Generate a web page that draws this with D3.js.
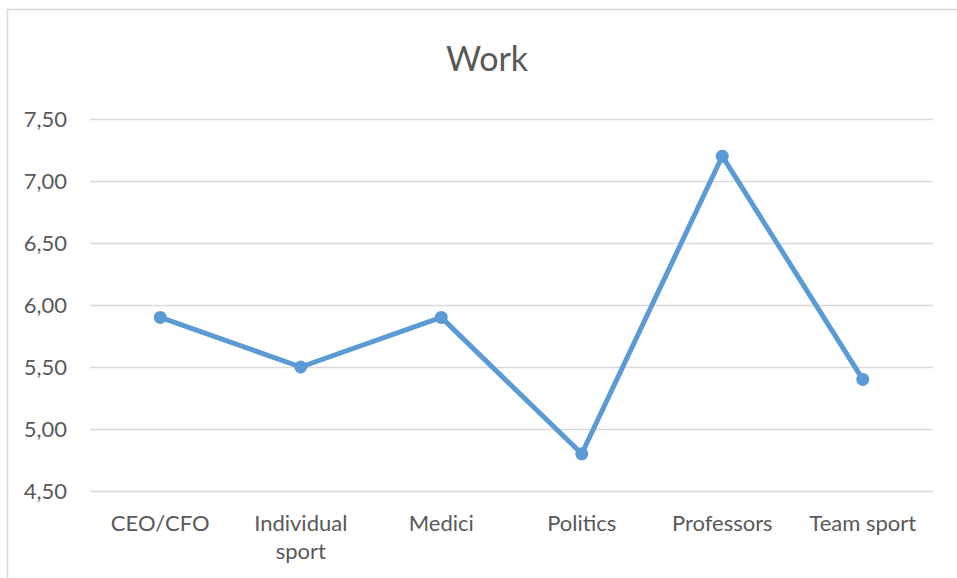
<!DOCTYPE html>
<html>
<head>
<meta charset="utf-8">
<script src="https://cdn.jsdelivr.net/npm/d3@7"></script>
<style>
  html, body { margin: 0; padding: 0; background: #fff; }
  svg { display: block; }
  text { font-family: Lato, "Open Sans", sans-serif; fill: #595959; }
</style>
</head>
<body>
<svg id="chart" width="957" height="578"></svg>
<script>
// Average "Work" score per profession group
const categories = ["CEO/CFO", "Individual sport", "Medici", "Politics", "Professors", "Team sport"];
const values = [5.9, 5.5, 5.9, 4.8, 7.2, 5.4];
const yTicks = [4.5, 5.0, 5.5, 6.0, 6.5, 7.0, 7.5];
const title = "Work";

const svg = d3.select("#chart");
const W = 957, H = 578;
const margin = { left: 90, right: 24, top: 119, bottom: 87 };

// chart frame
svg.append("rect")
  .attr("x", 7.5).attr("y", 9.5)
  .attr("width", W + 20).attr("height", H + 20)
  .attr("fill", "none").attr("stroke", "#d9d9d9").attr("stroke-width", 1.5);

const x = d3.scaleBand()
  .domain(categories)
  .range([margin.left, W - margin.right]);

const y = d3.scaleLinear()
  .domain([4.5, 7.5])
  .range([H - margin.bottom, margin.top]);

const fmt = v => d3.format(".2f")(v).replace(".", ",");

// gridlines + y labels
const yAxis = d3.axisLeft(y)
  .tickValues(yTicks)
  .tickSize(-(W - margin.right - margin.left))
  .tickPadding(23)
  .tickFormat(fmt);

const gy = svg.append("g")
  .attr("transform", `translate(${margin.left},0)`)
  .call(yAxis);
gy.select(".domain").remove();
gy.selectAll(".tick line").attr("stroke", "#d9d9d9").attr("stroke-width", 1.3);
gy.selectAll(".tick text")
  .attr("font-size", 22)
  .style("font-family", "Lato, 'Open Sans', sans-serif")
  .attr("fill", "#595959");

// category labels (wrapped)
const xAxis = d3.axisBottom(x).tickSize(0).tickPadding(0).tickFormat("");
const gx = svg.append("g")
  .attr("transform", `translate(0,${H - margin.bottom})`)
  .call(xAxis);
gx.select(".domain").remove();
gx.selectAll(".tick").each(function(d) {
  const lines = d === "Individual sport" ? ["Individual", "sport"] : [d];
  const t = d3.select(this).append("text")
    .attr("text-anchor", "middle")
    .attr("font-size", 22)
    .attr("y", 40);
  lines.forEach((ln, i) => {
    t.append("tspan").attr("x", 0).attr("dy", i === 0 ? 0 : 28).text(ln);
  });
});

// series line
const line = d3.line()
  .x((d, i) => x(categories[i]) + x.bandwidth() / 2)
  .y(d => y(d));

svg.append("path")
  .datum(values)
  .attr("fill", "none")
  .attr("stroke", "#5b9bd5")
  .attr("stroke-width", 5)
  .attr("stroke-linejoin", "round")
  .attr("d", line);

svg.selectAll("circle.pt")
  .data(values)
  .join("circle")
  .attr("class", "pt")
  .attr("cx", (d, i) => x(categories[i]) + x.bandwidth() / 2)
  .attr("cy", d => y(d))
  .attr("r", 6.5)
  .attr("fill", "#5b9bd5");

// title
svg.append("text")
  .attr("x", 487).attr("y", 71)
  .attr("text-anchor", "middle")
  .attr("font-size", 34)
  .text(title);
</script>
</body>
</html>
